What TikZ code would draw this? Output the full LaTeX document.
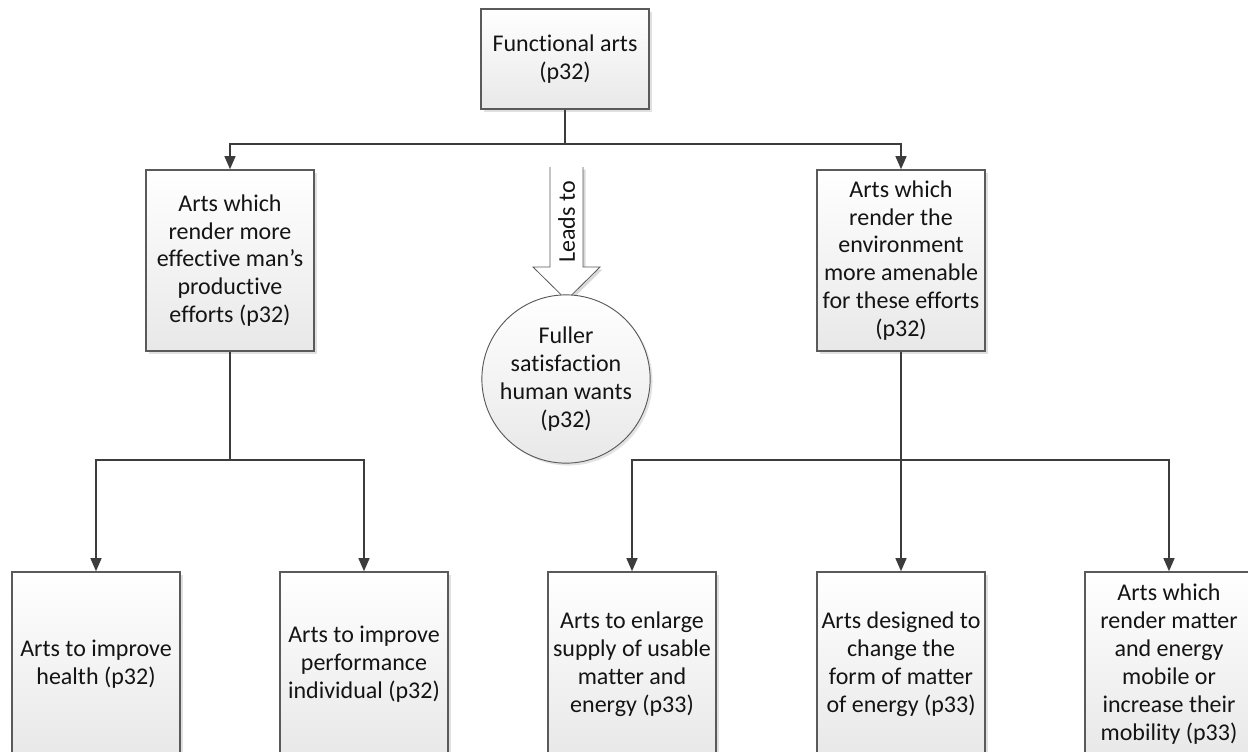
\documentclass[tikz,border=0pt]{standalone}
\usepackage{fontspec}
\setmainfont{Carlito}[Ligatures=NoCommon]
\usetikzlibrary{arrows.meta,shadows}
\definecolor{edgegray}{HTML}{5A5A5A}
\definecolor{wiregray}{HTML}{3C3C3C}
\definecolor{inkgray}{HTML}{141414}
\begin{document}
\begin{tikzpicture}[x=0.75pt,y=-0.75pt,
  font=\fontsize{18}{20.9}\selectfont,
  every node/.style={text=inkgray},
  box/.style={draw=edgegray, line width=0.9pt, top color=white, bottom color=black!9,
    align=center, inner sep=2pt, minimum width=126pt,
    drop shadow={shadow xshift=2.2pt, shadow yshift=-2.2pt, fill=black!20, opacity=0.6}},
  topbox/.style={box, minimum height=75pt},
  midbox/.style={box, minimum height=135.75pt},
  leafbox/.style={box, minimum height=138pt},
  goal/.style={circle, draw=edgegray, line width=0.7pt, top color=white, bottom color=black!9,
    align=center, inner sep=0pt, minimum size=100.5pt,
    drop shadow={shadow xshift=1.8pt, shadow yshift=-1.8pt, fill=black!18, opacity=0.6}},
  wire/.style={draw=wiregray, line width=1.9pt},
  arr/.style={wire, -{Triangle[length=10pt,width=8pt]}}
]
\useasboundingbox (0,0) rectangle (1248,751);
\fill[white] (0,0) rectangle (1248,751);

% top of the hierarchy
\node[topbox] (F) at (565,59) {Functional arts\\(p32)};

% second level
\node[midbox] (L) at (230,260.5) {Arts which\\render more\\effective man’s\\productive\\efforts (p32)};
\node[midbox] (R) at (901,260.5) {Arts which\\render the\\environment\\more amenable\\for these efforts\\(p32)};

% block arrow with its label and the outcome
\fill[black!15] (552.5,169.5) -- (552.5,269.5) -- (535.5,269.5) -- (569,302.5) -- (602.5,269.5) -- (585.5,269.5) -- (585.5,169.5) -- cycle;
\filldraw[fill=white, draw=edgegray, line width=0.6pt]
  (550,167) -- (550,267) -- (533,267) -- (566.5,300) -- (600,267) -- (583,267) -- (583,167);
\node[rotate=90] (leads) at (566.5,222) {Leads to};
\node[goal] (G) at (566,379) {Fuller\\satisfaction\\human wants\\(p32)};

% leaves
\node[leafbox] (B1) at (96,664) {Arts to improve\\health (p32)};
\node[leafbox] (B2) at (364,664) {Arts to improve\\performance\\individual (p32)};
\node[leafbox] (B3) at (632,664) {Arts to enlarge\\supply of usable\\matter and\\energy (p33)};
\node[leafbox] (B4) at (901,664) {Arts designed to\\change the\\form of matter\\of energy (p33)};
\node[leafbox] (B5) at (1169,664) {Arts which\\render matter\\and energy\\mobile or\\increase their\\mobility (p33)};

% connectors
\coordinate (jt) at (565,144);
\coordinate (jl) at (230,460);
\coordinate (jr) at (901,460);
\draw[wire] (F.south) -- (jt);
\draw[arr] (jt) -| (L.north);
\draw[arr] (jt) -| (R.north);
\draw[wire] (L.south) -- (jl);
\draw[arr] (jl) -| (B1.north);
\draw[arr] (jl) -| (B2.north);
\draw[wire] (R.south) -- (jr);
\draw[arr] (jr) -| (B3.north);
\draw[arr] (jr) -- (B4.north);
\draw[arr] (jr) -| (B5.north);
\end{tikzpicture}
\end{document}
